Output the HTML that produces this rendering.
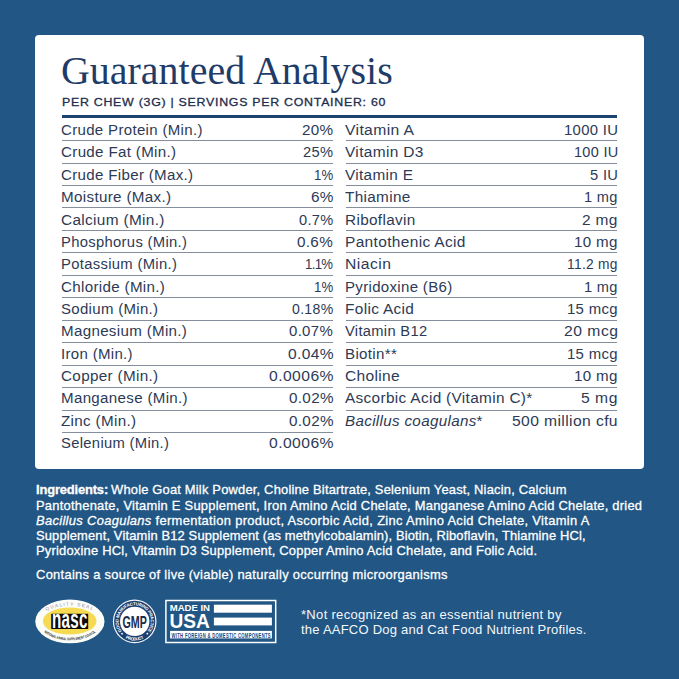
<!DOCTYPE html>
<html><head><meta charset="utf-8">
<style>
html,body{margin:0;padding:0;}
body{width:679px;height:679px;background:#215685;position:relative;overflow:hidden;font-family:"Liberation Sans",sans-serif;}
.card{position:absolute;left:35px;top:35px;width:609px;height:434px;background:#fff;border-radius:4px;}
.rule{position:absolute;left:62px;top:115px;width:555px;height:3px;background:#1d4370;}
.ln{position:absolute;height:1px;background:#858e9c;}
.t{position:absolute;white-space:nowrap;line-height:1;transform-origin:0 0;}
.rt{font-size:14px;color:#2d3a55;}
.title{font-family:"Liberation Serif",serif;font-size:40.5px;color:#1f3c68;}
.sub{font-size:11.7px;color:#1e2d4d;-webkit-text-stroke:0.3px #1e2d4d;}
.ing{font-size:12.2px;color:#fff;-webkit-text-stroke:0.28px #fff;}
.note{font-size:12.4px;color:#f4f8fc;}
</style></head><body>
<div class="card"></div>
<div class="rule"></div>
<div class="ln" style="left:62px;top:140.0px;width:270.5px"></div>
<div class="ln" style="left:62px;top:162.5px;width:270.5px"></div>
<div class="ln" style="left:62px;top:184.9px;width:270.5px"></div>
<div class="ln" style="left:62px;top:207.4px;width:270.5px"></div>
<div class="ln" style="left:62px;top:229.8px;width:270.5px"></div>
<div class="ln" style="left:62px;top:252.3px;width:270.5px"></div>
<div class="ln" style="left:62px;top:274.8px;width:270.5px"></div>
<div class="ln" style="left:62px;top:297.2px;width:270.5px"></div>
<div class="ln" style="left:62px;top:319.7px;width:270.5px"></div>
<div class="ln" style="left:62px;top:342.1px;width:270.5px"></div>
<div class="ln" style="left:62px;top:364.6px;width:270.5px"></div>
<div class="ln" style="left:62px;top:387.1px;width:270.5px"></div>
<div class="ln" style="left:62px;top:409.5px;width:270.5px"></div>
<div class="ln" style="left:62px;top:432.0px;width:270.5px"></div>
<div class="ln" style="left:345.5px;top:140.0px;width:271.5px"></div>
<div class="ln" style="left:345.5px;top:162.5px;width:271.5px"></div>
<div class="ln" style="left:345.5px;top:184.9px;width:271.5px"></div>
<div class="ln" style="left:345.5px;top:207.4px;width:271.5px"></div>
<div class="ln" style="left:345.5px;top:229.8px;width:271.5px"></div>
<div class="ln" style="left:345.5px;top:252.3px;width:271.5px"></div>
<div class="ln" style="left:345.5px;top:274.8px;width:271.5px"></div>
<div class="ln" style="left:345.5px;top:297.2px;width:271.5px"></div>
<div class="ln" style="left:345.5px;top:319.7px;width:271.5px"></div>
<div class="ln" style="left:345.5px;top:342.1px;width:271.5px"></div>
<div class="ln" style="left:345.5px;top:364.6px;width:271.5px"></div>
<div class="ln" style="left:345.5px;top:387.1px;width:271.5px"></div>
<div class="ln" style="left:345.5px;top:409.5px;width:271.5px"></div>
<div class="t rt" id="ll0" style="left:61.20px;top:123.10px;letter-spacing:0.300px;transform:scaleX(1.0733)">Crude Protein (Min.)</div>
<div class="t rt rv" id="lv0" style="left:301.80px;top:123.10px;letter-spacing:0.300px;transform:scaleX(1.0897)">20%</div>
<div class="t rt" id="ll1" style="left:61.20px;top:145.45px;letter-spacing:0.300px;transform:scaleX(1.0815)">Crude Fat (Min.)</div>
<div class="t rt rv" id="lv1" style="left:303.00px;top:145.45px;letter-spacing:0.300px;transform:scaleX(1.0478)">25%</div>
<div class="t rt" id="ll2" style="left:61.20px;top:167.80px;letter-spacing:0.300px;transform:scaleX(1.0778)">Crude Fiber (Max.)</div>
<div class="t rt rv" id="lv2" style="left:313.80px;top:167.80px;letter-spacing:0.191px;transform:scaleX(0.9400)">1%</div>
<div class="t rt" id="ll3" style="left:61.20px;top:190.15px;letter-spacing:0.300px;transform:scaleX(1.0854)">Moisture (Max.)</div>
<div class="t rt rv" id="lv3" style="left:310.50px;top:190.15px;letter-spacing:0.300px;transform:scaleX(1.0957)">6%</div>
<div class="t rt" id="ll4" style="left:61.20px;top:212.50px;letter-spacing:0.300px;transform:scaleX(1.0984)">Calcium (Min.)</div>
<div class="t rt rv" id="lv4" style="left:298.80px;top:212.50px;letter-spacing:0.300px;transform:scaleX(1.0420)">0.7%</div>
<div class="t rt" id="ll5" style="left:61.20px;top:234.85px;letter-spacing:0.300px;transform:scaleX(1.0563)">Phosphorus (Min.)</div>
<div class="t rt rv" id="lv5" style="left:297.30px;top:234.85px;letter-spacing:0.300px;transform:scaleX(1.0877)">0.6%</div>
<div class="t rt" id="ll6" style="left:61.20px;top:257.20px;letter-spacing:0.300px;transform:scaleX(1.0581)">Potassium (Min.)</div>
<div class="t rt rv" id="lv6" style="left:305.00px;top:257.20px;letter-spacing:-0.712px;transform:scaleX(0.9400)">1.1%</div>
<div class="t rt" id="ll7" style="left:61.20px;top:279.55px;letter-spacing:0.300px;transform:scaleX(1.0822)">Chloride (Min.)</div>
<div class="t rt rv" id="lv7" style="left:313.80px;top:279.55px;letter-spacing:0.191px;transform:scaleX(0.9400)">1%</div>
<div class="t rt" id="ll8" style="left:61.20px;top:301.90px;letter-spacing:0.300px;transform:scaleX(1.0701)">Sodium (Min.)</div>
<div class="t rt rv" id="lv8" style="left:291.80px;top:301.90px;letter-spacing:0.300px;transform:scaleX(1.0073)">0.18%</div>
<div class="t rt" id="ll9" style="left:61.20px;top:324.25px;letter-spacing:0.300px;transform:scaleX(1.0804)">Magnesium (Min.)</div>
<div class="t rt rv" id="lv9" style="left:289.30px;top:324.25px;letter-spacing:0.300px;transform:scaleX(1.0684)">0.07%</div>
<div class="t rt" id="ll10" style="left:61.20px;top:346.60px;letter-spacing:0.300px;transform:scaleX(1.0719)">Iron (Min.)</div>
<div class="t rt rv" id="lv10" style="left:287.50px;top:346.60px;letter-spacing:0.300px;transform:scaleX(1.1124)">0.04%</div>
<div class="t rt" id="ll11" style="left:61.20px;top:368.95px;letter-spacing:0.300px;transform:scaleX(1.0886)">Copper (Min.)</div>
<div class="t rt rv" id="lv11" style="left:268.50px;top:368.95px;letter-spacing:0.385px;transform:scaleX(1.1200)">0.0006%</div>
<div class="t rt" id="ll12" style="left:61.20px;top:391.30px;letter-spacing:0.300px;transform:scaleX(1.0790)">Manganese (Min.)</div>
<div class="t rt rv" id="lv12" style="left:288.50px;top:391.30px;letter-spacing:0.300px;transform:scaleX(1.0879)">0.02%</div>
<div class="t rt" id="ll13" style="left:61.20px;top:413.65px;letter-spacing:0.300px;transform:scaleX(1.0864)">Zinc (Min.)</div>
<div class="t rt rv" id="lv13" style="left:288.50px;top:413.65px;letter-spacing:0.300px;transform:scaleX(1.0879)">0.02%</div>
<div class="t rt" id="ll14" style="left:61.20px;top:436.00px;letter-spacing:0.300px;transform:scaleX(1.0555)">Selenium (Min.)</div>
<div class="t rt rv" id="lv14" style="left:268.50px;top:436.00px;letter-spacing:0.385px;transform:scaleX(1.1200)">0.0006%</div>
<div class="t rt" id="rl0" style="left:345.20px;top:123.10px;letter-spacing:0.328px;transform:scaleX(1.1200)">Vitamin A</div>
<div class="t rt rv" id="rv0" style="left:563.80px;top:123.10px;letter-spacing:0.300px;transform:scaleX(1.0620)">1000 IU</div>
<div class="t rt" id="rl1" style="left:345.20px;top:145.45px;letter-spacing:0.300px;transform:scaleX(1.1041)">Vitamin D3</div>
<div class="t rt rv" id="rv1" style="left:573.60px;top:145.45px;letter-spacing:0.300px;transform:scaleX(1.0339)">100 IU</div>
<div class="t rt" id="rl2" style="left:345.20px;top:167.80px;letter-spacing:0.300px;transform:scaleX(1.0955)">Vitamin E</div>
<div class="t rt rv" id="rv2" style="left:589.90px;top:167.80px;letter-spacing:0.300px;transform:scaleX(1.0494)">5 IU</div>
<div class="t rt" id="rl3" style="left:345.20px;top:190.15px;letter-spacing:0.300px;transform:scaleX(1.0939)">Thiamine</div>
<div class="t rt rv" id="rv3" style="left:584.40px;top:190.15px;letter-spacing:0.300px;transform:scaleX(1.0429)">1 mg</div>
<div class="t rt" id="rl4" style="left:345.20px;top:212.50px;letter-spacing:0.300px;transform:scaleX(1.0953)">Riboflavin</div>
<div class="t rt rv" id="rv4" style="left:582.40px;top:212.50px;letter-spacing:0.300px;transform:scaleX(1.1054)">2 mg</div>
<div class="t rt" id="rl5" style="left:345.20px;top:234.85px;letter-spacing:0.300px;transform:scaleX(1.1066)">Pantothenic Acid</div>
<div class="t rt rv" id="rv5" style="left:574.40px;top:234.85px;letter-spacing:0.300px;transform:scaleX(1.0817)">10 mg</div>
<div class="t rt" id="rl6" style="left:345.20px;top:257.20px;letter-spacing:0.415px;transform:scaleX(1.1200)">Niacin</div>
<div class="t rt rv" id="rv6" style="left:567.30px;top:257.20px;letter-spacing:0.300px;transform:scaleX(0.9835)">11.2 mg</div>
<div class="t rt" id="rl7" style="left:345.20px;top:279.55px;letter-spacing:0.300px;transform:scaleX(1.0730)">Pyridoxine (B6)</div>
<div class="t rt rv" id="rv7" style="left:584.40px;top:279.55px;letter-spacing:0.300px;transform:scaleX(1.0429)">1 mg</div>
<div class="t rt" id="rl8" style="left:345.20px;top:301.90px;letter-spacing:0.300px;transform:scaleX(1.1003)">Folic Acid</div>
<div class="t rt rv" id="rv8" style="left:567.30px;top:301.90px;letter-spacing:0.300px;transform:scaleX(1.0649)">15 mcg</div>
<div class="t rt" id="rl9" style="left:345.20px;top:324.25px;letter-spacing:0.300px;transform:scaleX(1.0494)">Vitamin B12</div>
<div class="t rt rv" id="rv9" style="left:563.80px;top:324.25px;letter-spacing:0.458px;transform:scaleX(1.1200)">20 mcg</div>
<div class="t rt" id="rl10" style="left:345.20px;top:346.60px;letter-spacing:0.300px;transform:scaleX(1.0787)">Biotin**</div>
<div class="t rt rv" id="rv10" style="left:567.30px;top:346.60px;letter-spacing:0.300px;transform:scaleX(1.0649)">15 mcg</div>
<div class="t rt" id="rl11" style="left:345.20px;top:368.95px;letter-spacing:0.300px;transform:scaleX(1.1099)">Choline</div>
<div class="t rt rv" id="rv11" style="left:574.40px;top:368.95px;letter-spacing:0.300px;transform:scaleX(1.0817)">10 mg</div>
<div class="t rt" id="rl12" style="left:345.20px;top:391.30px;letter-spacing:0.300px;transform:scaleX(1.0976)">Ascorbic Acid (Vitamin C)*</div>
<div class="t rt rv" id="rv12" style="left:581.40px;top:391.30px;letter-spacing:0.458px;transform:scaleX(1.1200)">5 mg</div>
<div class="t rt" id="rl13" style="left:345.20px;top:413.65px;letter-spacing:0.300px;transform:scaleX(1.0842)"><i>Bacillus coagulans</i>*</div>
<div class="t rt rv" id="rv13" style="left:512.20px;top:413.65px;letter-spacing:0.342px;transform:scaleX(1.1200)">500 million cfu</div>
<div class="t title" id="title" style="left:61.00px;top:50.70px;letter-spacing:0.000px;transform:scaleX(0.9864)">Guaranteed Analysis</div>
<div class="t sub" id="sub" style="left:61.50px;top:95.60px;letter-spacing:0.678px;transform:scaleX(1.0600)">PER CHEW (3G) | SERVINGS PER CONTAINER: 60</div>
<div class="t ing" id="ing0a" style="left:35.55px;top:484.30px;letter-spacing:-0.149px;transform:scaleX(1.0600)"><b>Ingredients:</b></div>
<div class="t ing" id="ing0b" style="left:110.75px;top:484.30px;letter-spacing:0.177px;transform:scaleX(1.0600)">Whole Goat Milk Powder, Choline Bitartrate, Selenium Yeast, Niacin, Calcium</div>
<div class="t ing" id="ing1" style="left:35.55px;top:499.50px;letter-spacing:0.230px;transform:scaleX(1.0600)">Pantothenate, Vitamin E Supplement, Iron Amino Acid Chelate, Manganese Amino Acid Chelate, dried</div>
<div class="t ing" id="ing2" style="left:35.55px;top:514.70px;letter-spacing:0.303px;transform:scaleX(1.0600)"><i>Bacillus Coagulans</i> fermentation product, Ascorbic Acid, Zinc Amino Acid Chelate, Vitamin A</div>
<div class="t ing" id="ing3" style="left:35.55px;top:529.90px;letter-spacing:0.137px;transform:scaleX(1.0600)">Supplement, Vitamin B12 Supplement (as methylcobalamin), Biotin, Riboflavin, Thiamine HCl,</div>
<div class="t ing" id="ing4" style="left:35.55px;top:545.10px;letter-spacing:0.195px;transform:scaleX(1.0600)">Pyridoxine HCl, Vitamin D3 Supplement, Copper Amino Acid Chelate, and Folic Acid.</div>
<div class="t ing" id="t2" style="left:35.55px;top:569.00px;letter-spacing:0.280px;transform:scaleX(1.0600)">Contains a source of live (viable) naturally occurring microorganisms</div>
<div class="t note" id="n0" style="left:300.65px;top:608.80px;letter-spacing:0.296px;transform:scaleX(1.0500)">*Not recognized as an essential nutrient by</div>
<div class="t note" id="n1" style="left:300.65px;top:623.80px;letter-spacing:0.214px;transform:scaleX(1.0500)">the AAFCO Dog and Cat Food Nutrient Profiles.</div>
<svg width="679" height="679" viewBox="0 0 679 679" style="position:absolute;left:0;top:0" font-family="Liberation Sans, sans-serif">
<ellipse cx="69.9" cy="621.4" rx="34.6" ry="21.9" fill="#fdfdf8"/>
<ellipse cx="69.7" cy="621" rx="26.8" ry="13.6" fill="#f6da52"/>
<path id="nq" d="M 38.900000000000006 617.5 A 32 15.6 0 0 1 100.9 617.5" fill="none"/>
<text font-size="4.7" fill="#8e88a2" letter-spacing="1.25"><textPath href="#nq" startOffset="50%" text-anchor="middle">QUALITY SEAL</textPath></text>
<path id="nb" d="M 39.900000000000006 626.8 A 31.3 19 0 0 0 99.9 626.8" fill="none"/>
<text font-size="3.8" fill="#2a2a2a" font-weight="bold" textLength="55" lengthAdjust="spacingAndGlyphs"><textPath href="#nb" startOffset="50%" text-anchor="middle" textLength="55" lengthAdjust="spacingAndGlyphs">NATIONAL ANIMAL SUPPLEMENT COUNCIL</textPath></text>
<rect x="51.2" y="613.8" width="37" height="15.1" rx="0.6" fill="#0c0c0c"/>
<text x="0" y="0" font-size="26.4" font-weight="bold" fill="#fff" transform="translate(51.9,628.4) scale(0.575,1)" letter-spacing="0.5">nasc</text>
<circle cx="134.7" cy="621.4" r="21.8" fill="#f4f8fc"/>
<circle cx="134.7" cy="621.4" r="20.6" fill="#1b3f70"/>
<circle cx="134.7" cy="621.4" r="14.7" fill="#fff"/>
<path id="gt" d="M 122.37 631.75 A 16.1 16.1 0 1 1 147.03 631.75" fill="none"/>
<text font-size="4.4" fill="#fff" font-weight="bold"><textPath href="#gt" startOffset="50%" text-anchor="middle" textLength="71" lengthAdjust="spacing">GOOD MANUFACTURING PRACTICE</textPath></text>
<path id="gb" d="M 122.88 636.53 A 19.2 19.2 0 0 0 146.52 636.53" fill="none"/>
<text font-size="4.4" fill="#fff" font-weight="bold"><textPath href="#gb" startOffset="50%" text-anchor="middle" textLength="19" lengthAdjust="spacing">PRODUCT</textPath></text>
<circle cx="122.04" cy="633.63" r="0.9" fill="#fff"/>
<circle cx="147.36" cy="633.63" r="0.9" fill="#fff"/>
<text font-size="16" font-weight="bold" fill="#1c2c4c" transform="translate(134.7,627.9) scale(0.67,1.02)" text-anchor="middle">GMP</text>
<rect x="165.9" y="600.5" width="109.8" height="42" fill="none" stroke="#fff" stroke-width="1.5"/>
<rect x="213.9" y="604.7" width="58" height="8" fill="#fff"/>
<rect x="213.9" y="617.6" width="58" height="7.8" fill="#fff"/>
<rect x="170.1" y="630.9" width="101.8" height="7.5" fill="#fff"/>
<text font-size="8.7" font-weight="bold" fill="#fff" transform="translate(169.7,611.3) scale(1.10,1)">MADE IN</text>
<text font-size="19.6" font-weight="bold" fill="#fff" transform="translate(169.5,627.9) scale(0.975,1)">USA</text>
<text font-size="7.6" font-weight="bold" fill="#1d4678" transform="translate(171.6,637.5) scale(0.55,1)" textLength="180" lengthAdjust="spacing">WITH FOREIGN &amp; DOMESTIC COMPONENTS</text>
</svg>
</body></html>
